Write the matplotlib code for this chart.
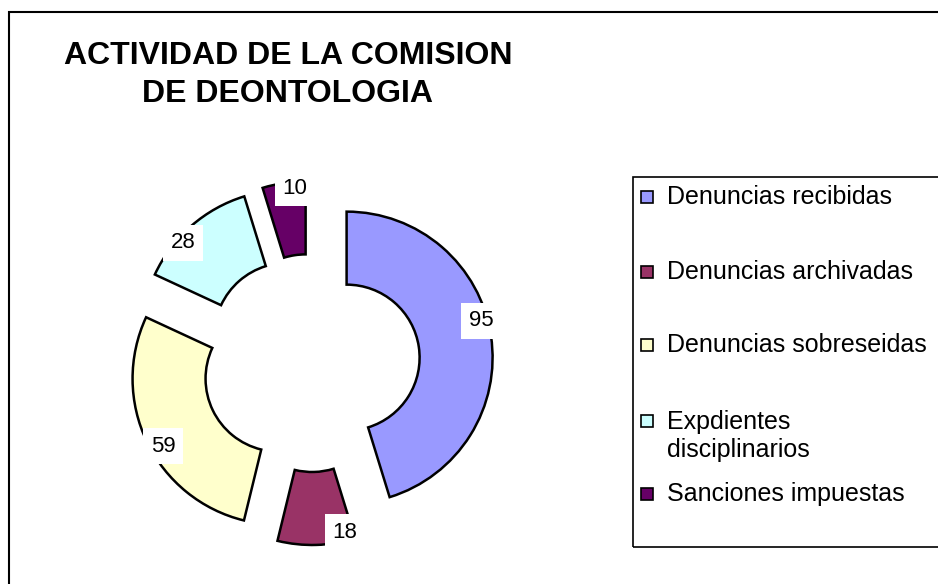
import matplotlib
matplotlib.use("Agg")
import matplotlib.pyplot as plt
from matplotlib.patches import Rectangle

plt.rcParams['font.family'] = ['Liberation Sans', 'DejaVu Sans']

# data
categorias = ["Denuncias recibidas", "Denuncias archivadas", "Denuncias sobreseidas",
              "Expdientes\ndisciplinarios", "Sanciones impuestas"]
valores = [95, 18, 59, 28, 10]
colores = ["#9999FF", "#993366", "#FFFFCC", "#CCFFFF", "#660066"]

# posiciones de las etiquetas (pixeles, desde arriba)
etiq_pos = [(481, 321), (345, 532), (163, 446), (183, 243), (295, 188)]

W, H = 938, 584
fig = plt.figure(figsize=(W / 100, H / 100), dpi=100)
ax = fig.add_axes([0, 0, 1, 1])

R = 146
wedges, _ = ax.pie(valores, colors=colores, startangle=90, counterclock=False,
                   radius=R, center=(311, H - 363), explode=[36] * len(valores),
                   wedgeprops=dict(width=73, edgecolor='black', linewidth=1.8))
ax.set_xlim(0, W)
ax.set_ylim(0, H)
ax.set_aspect('auto')
ax.axis('off')

# etiquetas de valores
for v, (px, py) in zip(valores, etiq_pos):
    ax.text(px, H - py, str(v), fontsize=16, ha='center', va='center',
            bbox=dict(boxstyle='square,pad=0.35', fc='white', ec='none'))

# titulo
ax.text(288, H - 75, "ACTIVIDAD DE LA COMISION\nDE DEONTOLOGIA", fontsize=23,
        fontweight='bold', ha='center', va='center', linespacing=1.32)

# marco exterior
ax.add_patch(Rectangle((9, -10), W, H - 12 + 10, fill=False, ec='black', lw=1.5,
                       clip_on=False))

# leyenda
ax.add_patch(Rectangle((633, H - 547), 400, 547 - 177, fill=False, ec='black',
                       lw=1.2, clip_on=False))
leg_y = [197, 272, 345, 436, 494]
for cat, col, ly in zip(categorias, colores, leg_y):
    sq_y = ly - 15 if '\n' in cat else ly
    ax.add_patch(Rectangle((641, H - sq_y - 6), 12, 12, fc=col, ec='black', lw=1.2))
    ax.text(667, H - ly, cat, fontsize=18, ha='left', va='center',
            linespacing=1.25)

fig.savefig("out.png", dpi=100)
